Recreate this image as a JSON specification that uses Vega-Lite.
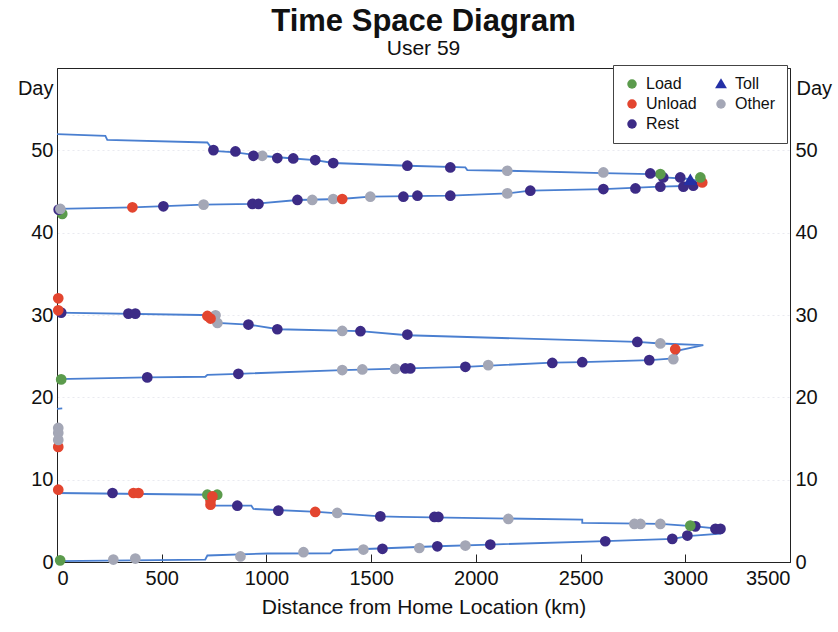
{
  "$schema": "https://vega.github.io/schema/vega-lite/v6.json",
  "autosize": "none",
  "padding": {"left": 57, "top": 68, "right": 48, "bottom": 70},
  "width": 733,
  "height": 494,
  "background": "white",
  "title": {
    "text": "Time Space Diagram",
    "subtitle": "User 59",
    "anchor": "middle",
    "fontSize": 31,
    "fontWeight": "bold",
    "subtitleFontSize": 21,
    "subtitlePadding": 0,
    "offset": 5,
    "color": "#111",
    "subtitleColor": "#111",
    "font": "Liberation Sans",
    "subtitleFont": "Liberation Sans"
  },
  "datasets": {
    "track": [
      {"trip": 0, "seq": 1, "km": 0, "day": 18.6},
      {"trip": 0, "seq": 2, "km": 25, "day": 18.65},
      {"trip": 1, "seq": 1, "km": 0, "day": 0.1},
      {"trip": 1, "seq": 2, "km": 708, "day": 0.3},
      {"trip": 1, "seq": 3, "km": 718, "day": 0.79},
      {"trip": 1, "seq": 4, "km": 1004, "day": 1.03},
      {"trip": 1, "seq": 5, "km": 1305, "day": 1.05},
      {"trip": 1, "seq": 6, "km": 1319, "day": 1.43},
      {"trip": 1, "seq": 7, "km": 1816, "day": 1.91},
      {"trip": 1, "seq": 8, "km": 2069, "day": 2.12},
      {"trip": 1, "seq": 9, "km": 2618, "day": 2.54},
      {"trip": 1, "seq": 10, "km": 2943, "day": 2.81},
      {"trip": 1, "seq": 11, "km": 3010, "day": 3.15},
      {"trip": 1, "seq": 12, "km": 3168, "day": 3.45},
      {"trip": 1, "seq": 13, "km": 3175, "day": 4.0},
      {"trip": 1, "seq": 14, "km": 3048, "day": 4.33},
      {"trip": 1, "seq": 15, "km": 2881, "day": 4.62},
      {"trip": 1, "seq": 16, "km": 2508, "day": 4.75},
      {"trip": 1, "seq": 17, "km": 2508, "day": 5.15},
      {"trip": 1, "seq": 18, "km": 1639, "day": 5.47},
      {"trip": 1, "seq": 19, "km": 1544, "day": 5.54},
      {"trip": 1, "seq": 20, "km": 1243, "day": 6.1},
      {"trip": 1, "seq": 21, "km": 938, "day": 6.44},
      {"trip": 1, "seq": 22, "km": 928, "day": 6.84},
      {"trip": 1, "seq": 23, "km": 747, "day": 6.84},
      {"trip": 1, "seq": 24, "km": 733, "day": 8.17},
      {"trip": 1, "seq": 25, "km": 0, "day": 8.38},
      {"trip": 2, "seq": 1, "km": 0, "day": 22.2},
      {"trip": 2, "seq": 2, "km": 431, "day": 22.42},
      {"trip": 2, "seq": 3, "km": 708, "day": 22.5},
      {"trip": 2, "seq": 4, "km": 718, "day": 22.74},
      {"trip": 2, "seq": 5, "km": 866, "day": 22.86},
      {"trip": 2, "seq": 6, "km": 1362, "day": 23.31},
      {"trip": 2, "seq": 7, "km": 1673, "day": 23.51},
      {"trip": 2, "seq": 8, "km": 1950, "day": 23.71},
      {"trip": 2, "seq": 9, "km": 2365, "day": 24.21},
      {"trip": 2, "seq": 10, "km": 2508, "day": 24.27},
      {"trip": 2, "seq": 11, "km": 2833, "day": 24.52},
      {"trip": 2, "seq": 12, "km": 2943, "day": 24.72},
      {"trip": 2, "seq": 13, "km": 2976, "day": 25.74},
      {"trip": 2, "seq": 14, "km": 3086, "day": 26.35},
      {"trip": 2, "seq": 15, "km": 2881, "day": 26.54},
      {"trip": 2, "seq": 16, "km": 2771, "day": 26.73},
      {"trip": 2, "seq": 17, "km": 1673, "day": 27.54},
      {"trip": 2, "seq": 18, "km": 1449, "day": 28.03},
      {"trip": 2, "seq": 19, "km": 1057, "day": 28.27},
      {"trip": 2, "seq": 20, "km": 914, "day": 28.84},
      {"trip": 2, "seq": 21, "km": 766, "day": 29.03},
      {"trip": 2, "seq": 22, "km": 757, "day": 29.97},
      {"trip": 2, "seq": 23, "km": 0, "day": 30.3},
      {"trip": 3, "seq": 1, "km": 0, "day": 42.88},
      {"trip": 3, "seq": 2, "km": 360, "day": 43.08},
      {"trip": 3, "seq": 3, "km": 700, "day": 43.41},
      {"trip": 3, "seq": 4, "km": 938, "day": 43.49},
      {"trip": 3, "seq": 5, "km": 1148, "day": 43.97},
      {"trip": 3, "seq": 6, "km": 1353, "day": 44.09},
      {"trip": 3, "seq": 7, "km": 1496, "day": 44.37},
      {"trip": 3, "seq": 8, "km": 1878, "day": 44.49},
      {"trip": 3, "seq": 9, "km": 2150, "day": 44.77},
      {"trip": 3, "seq": 10, "km": 2260, "day": 45.1},
      {"trip": 3, "seq": 11, "km": 2609, "day": 45.3},
      {"trip": 3, "seq": 12, "km": 2881, "day": 45.58},
      {"trip": 3, "seq": 13, "km": 3038, "day": 45.7},
      {"trip": 3, "seq": 14, "km": 3081, "day": 46.1},
      {"trip": 3, "seq": 15, "km": 3024, "day": 46.52},
      {"trip": 3, "seq": 16, "km": 2895, "day": 46.71},
      {"trip": 3, "seq": 17, "km": 2833, "day": 47.12},
      {"trip": 3, "seq": 18, "km": 2609, "day": 47.24},
      {"trip": 3, "seq": 19, "km": 2150, "day": 47.52},
      {"trip": 3, "seq": 20, "km": 1959, "day": 47.6},
      {"trip": 3, "seq": 21, "km": 1950, "day": 47.92},
      {"trip": 3, "seq": 22, "km": 1673, "day": 48.13},
      {"trip": 3, "seq": 23, "km": 1319, "day": 48.46},
      {"trip": 3, "seq": 24, "km": 1233, "day": 48.82},
      {"trip": 3, "seq": 25, "km": 1128, "day": 49.01},
      {"trip": 3, "seq": 26, "km": 971, "day": 49.34},
      {"trip": 3, "seq": 27, "km": 852, "day": 49.74},
      {"trip": 3, "seq": 28, "km": 747, "day": 49.94},
      {"trip": 3, "seq": 29, "km": 718, "day": 50.95},
      {"trip": 3, "seq": 30, "km": 240, "day": 51.27},
      {"trip": 3, "seq": 31, "km": 231, "day": 51.76},
      {"trip": 3, "seq": 32, "km": 0, "day": 51.96}
    ],
    "stops": [
      {"type": "Load", "km": 15, "day": 0.2},
      {"type": "Other", "km": 269, "day": 0.3},
      {"type": "Other", "km": 374, "day": 0.42},
      {"type": "Other", "km": 876, "day": 0.67},
      {"type": "Other", "km": 1177, "day": 1.19},
      {"type": "Other", "km": 1463, "day": 1.51},
      {"type": "Rest", "km": 1554, "day": 1.6},
      {"type": "Other", "km": 1730, "day": 1.7},
      {"type": "Rest", "km": 1816, "day": 1.91},
      {"type": "Other", "km": 1950, "day": 2.0},
      {"type": "Rest", "km": 2069, "day": 2.12},
      {"type": "Rest", "km": 2618, "day": 2.52},
      {"type": "Rest", "km": 2938, "day": 2.81},
      {"type": "Rest", "km": 3010, "day": 3.21},
      {"type": "Rest", "km": 3144, "day": 4.02},
      {"type": "Rest", "km": 3168, "day": 4.02},
      {"type": "Rest", "km": 3048, "day": 4.33},
      {"type": "Load", "km": 3024, "day": 4.42},
      {"type": "Other", "km": 2881, "day": 4.62},
      {"type": "Other", "km": 2786, "day": 4.62},
      {"type": "Other", "km": 2757, "day": 4.62},
      {"type": "Other", "km": 2155, "day": 5.23},
      {"type": "Rest", "km": 1802, "day": 5.47},
      {"type": "Rest", "km": 1821, "day": 5.47},
      {"type": "Rest", "km": 1544, "day": 5.54},
      {"type": "Other", "km": 1338, "day": 5.96},
      {"type": "Unload", "km": 1233, "day": 6.08},
      {"type": "Rest", "km": 1057, "day": 6.24},
      {"type": "Rest", "km": 861, "day": 6.84},
      {"type": "Unload", "km": 733, "day": 6.96},
      {"type": "Unload", "km": 733, "day": 7.48},
      {"type": "Load", "km": 718, "day": 8.17},
      {"type": "Load", "km": 765, "day": 8.17},
      {"type": "Unload", "km": 742, "day": 7.97},
      {"type": "Rest", "km": 265, "day": 8.38},
      {"type": "Unload", "km": 365, "day": 8.38},
      {"type": "Unload", "km": 389, "day": 8.38},
      {"type": "Unload", "km": 6, "day": 8.78},
      {"type": "Unload", "km": 6, "day": 13.98},
      {"type": "Other", "km": 6, "day": 14.83},
      {"type": "Other", "km": 6, "day": 15.68},
      {"type": "Other", "km": 6, "day": 16.28},
      {"type": "Load", "km": 20, "day": 22.18},
      {"type": "Rest", "km": 431, "day": 22.42},
      {"type": "Rest", "km": 866, "day": 22.86},
      {"type": "Other", "km": 1362, "day": 23.31},
      {"type": "Other", "km": 1458, "day": 23.39},
      {"type": "Other", "km": 1615, "day": 23.46},
      {"type": "Rest", "km": 1663, "day": 23.51},
      {"type": "Rest", "km": 1687, "day": 23.51},
      {"type": "Rest", "km": 1950, "day": 23.71},
      {"type": "Other", "km": 2059, "day": 23.91},
      {"type": "Rest", "km": 2365, "day": 24.18},
      {"type": "Rest", "km": 2508, "day": 24.27},
      {"type": "Rest", "km": 2828, "day": 24.52},
      {"type": "Other", "km": 2943, "day": 24.64},
      {"type": "Unload", "km": 2952, "day": 25.85},
      {"type": "Other", "km": 2881, "day": 26.54},
      {"type": "Rest", "km": 2771, "day": 26.73},
      {"type": "Rest", "km": 1673, "day": 27.63},
      {"type": "Rest", "km": 1449, "day": 28.03},
      {"type": "Other", "km": 1362, "day": 28.06},
      {"type": "Rest", "km": 1052, "day": 28.27},
      {"type": "Rest", "km": 914, "day": 28.84},
      {"type": "Other", "km": 766, "day": 29.03},
      {"type": "Other", "km": 757, "day": 29.97},
      {"type": "Unload", "km": 733, "day": 29.57},
      {"type": "Unload", "km": 718, "day": 29.88},
      {"type": "Rest", "km": 341, "day": 30.17},
      {"type": "Rest", "km": 374, "day": 30.17},
      {"type": "Rest", "km": 20, "day": 30.29},
      {"type": "Unload", "km": 6, "day": 30.57},
      {"type": "Unload", "km": 6, "day": 32.03},
      {"type": "Load", "km": 25, "day": 42.28},
      {"type": "Rest", "km": 8, "day": 42.8},
      {"type": "Other", "km": 16, "day": 42.88},
      {"type": "Unload", "km": 360, "day": 43.08},
      {"type": "Rest", "km": 508, "day": 43.2},
      {"type": "Other", "km": 700, "day": 43.41},
      {"type": "Rest", "km": 933, "day": 43.49},
      {"type": "Rest", "km": 962, "day": 43.49},
      {"type": "Rest", "km": 1148, "day": 43.97},
      {"type": "Other", "km": 1219, "day": 43.97},
      {"type": "Other", "km": 1319, "day": 44.09},
      {"type": "Unload", "km": 1362, "day": 44.09},
      {"type": "Other", "km": 1496, "day": 44.37},
      {"type": "Rest", "km": 1654, "day": 44.37},
      {"type": "Rest", "km": 1721, "day": 44.49},
      {"type": "Rest", "km": 1878, "day": 44.49},
      {"type": "Other", "km": 2150, "day": 44.77},
      {"type": "Rest", "km": 2260, "day": 45.1},
      {"type": "Rest", "km": 2609, "day": 45.3},
      {"type": "Rest", "km": 2762, "day": 45.37},
      {"type": "Rest", "km": 2881, "day": 45.58},
      {"type": "Rest", "km": 2991, "day": 45.58},
      {"type": "Rest", "km": 3038, "day": 45.7},
      {"type": "Unload", "km": 3081, "day": 46.1},
      {"type": "Rest", "km": 2976, "day": 46.71},
      {"type": "Load", "km": 3072, "day": 46.71},
      {"type": "Rest", "km": 2895, "day": 46.71},
      {"type": "Load", "km": 2881, "day": 47.12},
      {"type": "Rest", "km": 2833, "day": 47.19},
      {"type": "Toll", "km": 3024, "day": 46.39},
      {"type": "Other", "km": 2609, "day": 47.31},
      {"type": "Other", "km": 2150, "day": 47.52},
      {"type": "Rest", "km": 1878, "day": 47.92},
      {"type": "Rest", "km": 1673, "day": 48.13},
      {"type": "Rest", "km": 1319, "day": 48.46},
      {"type": "Rest", "km": 1233, "day": 48.82},
      {"type": "Rest", "km": 1128, "day": 49.01},
      {"type": "Rest", "km": 1052, "day": 49.06},
      {"type": "Other", "km": 980, "day": 49.34},
      {"type": "Rest", "km": 938, "day": 49.34},
      {"type": "Rest", "km": 852, "day": 49.86},
      {"type": "Rest", "km": 747, "day": 50.03}
    ]
  },
  "layer": [
    {
      "data": {"name": "track"},
      "mark": {"type": "line", "color": "#4a7fd0", "strokeWidth": 1.8},
      "encoding": {
        "x": {"field": "km", "type": "quantitative", "scale": {"domain": [0, 3500], "nice": false},
          "title": "Distance from Home Location (km)",
          "axis": {"values": [0, 500, 1000, 1500, 2000, 2500, 3000, 3500], "format": "d", "tickSize": -8, "labelPadding": 14}},
        "y": {"field": "day", "type": "quantitative", "scale": {"domain": [0, 60], "nice": false},
          "axis": {"orient": "left", "values": [0, 10, 20, 30, 40, 50], "title": "Day", "titleAlign": "right", "titleX": -4, "titleY": 20, "grid": true, "gridColor": "#d4d6e2", "gridDash": [2, 3], "gridOpacity": 0.5, "labelPadding": 4}},
        "detail": {"field": "trip", "type": "nominal"},
        "order": {"field": "seq", "type": "quantitative"}
      }
    },
    {
      "data": {"name": "stops"},
      "mark": {"type": "point", "filled": true, "size": 115, "opacity": 1, "strokeWidth": 0},
      "encoding": {
        "x": {"field": "km", "type": "quantitative", "title": "Distance from Home Location (km)",
          "axis": {"values": [0, 500, 1000, 1500, 2000, 2500, 3000, 3500], "format": "d", "tickSize": -8, "labelPadding": 14}},
        "y": {"field": "day", "type": "quantitative",
          "axis": {"orient": "right", "values": [0, 10, 20, 30, 40, 50], "title": "Day", "titleAlign": "left", "titleX": 6, "titleY": 20, "grid": false, "labelPadding": 5}},
        "color": {"field": "type", "type": "nominal",
          "scale": {"domain": ["Load", "Unload", "Rest", "Toll", "Other"], "range": ["#5b9b4c", "#e3452f", "#3c2b86", "#2430a6", "#a4a7b6"]},
          "legend": {"title": null}},
        "shape": {"field": "type", "type": "nominal",
          "scale": {"domain": ["Load", "Unload", "Rest", "Toll", "Other"], "range": ["circle", "circle", "circle", "M0,-1.2L1.25,0.9L-1.25,0.9Z", "circle"]},
          "legend": {"title": null}}
      }
    }
  ],
  "resolve": {"axis": {"y": "independent"}},
  "config": {
    "font": "Liberation Sans",
    "view": {"stroke": "#222", "strokeWidth": 1},
    "axis": {
      "labelFont": "Liberation Sans",
      "titleFont": "Liberation Sans",
      "labelFontSize": 20,
      "titleFontSize": 21,
      "titleFontWeight": "normal",
      "labelColor": "#111",
      "titleColor": "#111",
      "domainColor": "#222"
    },
    "axisX": {
      "tickColor": "#222",
      "titlePadding": 8,
      "grid": false
    },
    "axisY": {
      "ticks": false,
      "titleAngle": 0,
      "titleBaseline": "middle",
      "titleFontSize": 20
    },
    "legend": {
      "orient": "none",
      "legendX": 556,
      "legendY": -3,
      "columns": 2,
      "direction": "vertical",
      "padding": 11,
      "strokeColor": "#444",
      "fillColor": "white",
      "symbolSize": 90,
      "symbolStrokeWidth": 0,
      "labelFontSize": 16,
      "labelFont": "Liberation Sans",
      "labelColor": "#111",
      "labelOffset": 6,
      "rowPadding": 4,
      "columnPadding": 16
    }
  }
}
